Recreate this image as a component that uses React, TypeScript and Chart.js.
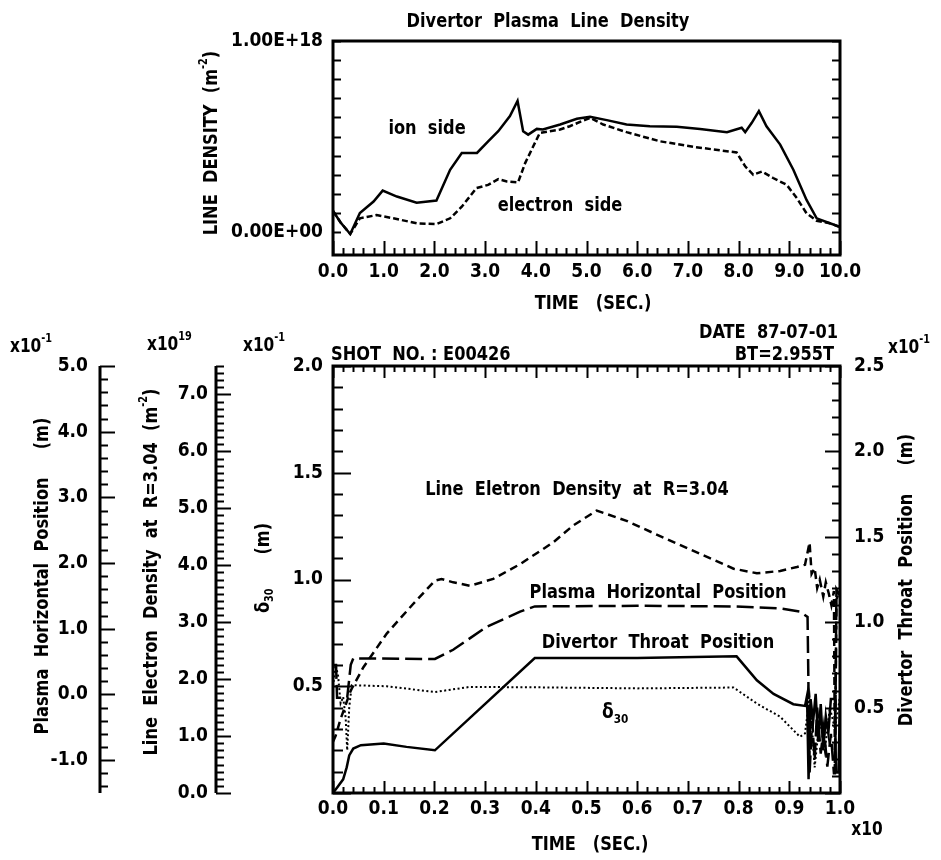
import React, { useEffect, useRef } from 'react';
import { Chart, registerables } from 'chart.js';

Chart.register(...registerables);

const FONT = '"DejaVu Sans Condensed", "Liberation Sans Narrow", "Roboto Condensed", "Liberation Sans", sans-serif';

// ---------- Top chart: Divertor Plasma Line Density (units of 1E+18 m^-2) ----------
const ionTime = [0, 0.15, 0.34, 0.53, 0.8, 0.98, 1.26, 1.65, 2.04, 2.31, 2.54, 2.84, 3.06, 3.26, 3.49, 3.64, 3.75, 3.85, 4.02, 4.14, 4.48, 4.81, 5.07, 5.4, 5.79, 6.25, 6.78, 7.24, 7.77, 8.06, 8.13, 8.26, 8.4, 8.55, 8.82, 9.08, 9.34, 9.54, 9.8, 10.0];
const ionValue = [0.11, 0.05, -0.01, 0.1, 0.16, 0.217, 0.186, 0.154, 0.165, 0.326, 0.414, 0.414, 0.475, 0.528, 0.607, 0.686, 0.528, 0.51, 0.54, 0.537, 0.563, 0.593, 0.604, 0.586, 0.563, 0.554, 0.551, 0.54, 0.523, 0.546, 0.523, 0.572, 0.633, 0.554, 0.458, 0.326, 0.168, 0.072, 0.046, 0.028];
const electronTime = [0, 0.15, 0.34, 0.53, 0.86, 1.19, 1.65, 2.04, 2.31, 2.54, 2.83, 3.06, 3.26, 3.43, 3.65, 3.79, 3.95, 4.08, 4.48, 4.67, 5.07, 5.33, 5.79, 6.45, 7.11, 7.63, 7.96, 8.13, 8.29, 8.46, 8.68, 8.95, 9.15, 9.34, 9.54, 9.8, 10.0];
const electronValue = [0.11, 0.05, -0.01, 0.072, 0.089, 0.072, 0.046, 0.042, 0.072, 0.133, 0.23, 0.247, 0.277, 0.265, 0.26, 0.361, 0.449, 0.519, 0.537, 0.554, 0.598, 0.563, 0.523, 0.475, 0.446, 0.428, 0.417, 0.344, 0.3, 0.317, 0.283, 0.247, 0.177, 0.098, 0.059, 0.046, 0.025];
const topXTicks = [0, 1, 2, 3, 4, 5, 6, 7, 8, 9, 10];
const topYTicks = [0, 1];

// ---------- Bottom chart (time in x10 s) ----------
const densityTime = [0, 0.005, 0.015, 0.025, 0.035, 0.06, 0.106, 0.158, 0.201, 0.214, 0.237, 0.27, 0.316, 0.369, 0.434, 0.474, 0.52, 0.579, 0.658, 0.724, 0.79, 0.836, 0.882, 0.915, 0.931, 0.94, 0.944, 0.95, 0.955, 0.96, 0.967, 0.972, 0.978, 0.983, 0.988, 0.99, 0.993, 0.997, 1.0];
const densityValue = [0.9, 1.0, 1.3, 1.55, 1.8, 2.21, 2.8, 3.32, 3.73, 3.76, 3.7, 3.64, 3.76, 4.02, 4.4, 4.7, 4.96, 4.78, 4.46, 4.2, 3.94, 3.86, 3.9, 3.97, 4.01, 4.4, 3.85, 3.95, 3.6, 3.75, 3.45, 3.7, 3.5, 3.3, 3.55, 0.4, 3.4, 3.5, 3.45];
const plasmaTime = [0, 0.006, 0.008, 0.028, 0.035, 0.04, 0.201, 0.237, 0.303, 0.369, 0.398, 0.6, 0.796, 0.882, 0.921, 0.936, 0.94, 0.945, 0.95, 0.955, 0.962, 0.968, 0.975, 0.982, 0.988, 0.99, 0.993, 1.0];
const plasmaValue = [0.45, 0.45, -0.05, -0.05, 0.45, 0.55, 0.54, 0.68, 1.03, 1.26, 1.34, 1.35, 1.34, 1.31, 1.26, 1.18, -1.2, -0.4, -1.0, -0.2, -0.9, -0.5, -1.1, -0.6, -1.2, -1.2, 1.6, 1.5];
const throatTime = [0, 0.01, 0.02, 0.027, 0.032, 0.04, 0.055, 0.1, 0.145, 0.201, 0.398, 0.6, 0.796, 0.836, 0.869, 0.908, 0.931, 0.935, 0.938, 0.942, 0.947, 0.952, 0.957, 0.962, 0.967, 0.972, 0.977, 0.982, 0.99, 0.992, 0.997, 1.0];
const throatValue = [0.0, 0.04, 0.08, 0.15, 0.22, 0.26, 0.28, 0.29, 0.27, 0.25, 0.79, 0.79, 0.8, 0.66, 0.58, 0.52, 0.51, 0.57, 0.08, 0.55, 0.42, 0.58, 0.3, 0.52, 0.25, 0.45, 0.35, 0.55, 0.55, 0.12, 0.12, 0.55];
const deltaTime = [0, 0.005, 0.01, 0.015, 0.02, 0.025, 0.028, 0.032, 0.037, 0.106, 0.201, 0.27, 0.4, 0.6, 0.79, 0.836, 0.882, 0.921, 0.931, 0.94, 0.945, 0.95, 0.96, 0.97, 0.98, 0.99, 1.0];
const deltaValue = [0.5, 0.6, 0.55, 0.42, 0.45, 0.35, 0.2, 0.4, 0.505, 0.5, 0.473, 0.497, 0.495, 0.49, 0.494, 0.419, 0.357, 0.263, 0.279, 0.45, 0.3, 0.12, 0.35, 0.2, 0.4, 0.3, 0.45];
const botXTicks = [0, 0.1, 0.2, 0.3, 0.4, 0.5, 0.6, 0.7, 0.8, 0.9, 1.0];
const deltaTicks = [0.5, 1.0, 1.5, 2.0];
const throatTicks = [0.5, 1.0, 1.5, 2.0, 2.5];
const plasmaTicks = [-1, 0, 1, 2, 3, 4, 5];
const densityTicks = [0, 1, 2, 3, 4, 5, 6, 7];

const W = 941;
const TOP_H = 320;
const BOT_TOP = 320;
const BOT_H = 540;
const SQUEEZE = 0.9;

type Part = { t: string; s?: 'sup' | 'sub' };

function drawRich(ctx: CanvasRenderingContext2D, parts: Part[], x: number, y: number, size: number, align: 'left' | 'center' | 'right', rot = 0) {
  ctx.save();
  ctx.translate(x, y);
  if (rot) ctx.rotate(rot);
  ctx.scale(SQUEEZE, 1);
  const small = Math.round(size * 0.62);
  const widths = parts.map((p) => {
    ctx.font = `bold ${p.s ? small : size}px ${FONT}`;
    return ctx.measureText(p.t).width;
  });
  const total = widths.reduce((a, b) => a + b, 0);
  let cx = align === 'left' ? 0 : align === 'center' ? -total / 2 : -total;
  ctx.textBaseline = 'middle';
  ctx.textAlign = 'left';
  ctx.fillStyle = '#000';
  parts.forEach((p, i) => {
    ctx.font = `bold ${p.s ? small : size}px ${FONT}`;
    const dy = p.s === 'sup' ? -size * 0.42 : p.s === 'sub' ? size * 0.3 : 0;
    ctx.fillText(p.t, cx, dy);
    cx += widths[i];
  });
  ctx.restore();
}

function line(ctx: CanvasRenderingContext2D, x1: number, y1: number, x2: number, y2: number, w = 2) {
  ctx.lineWidth = w;
  ctx.beginPath();
  ctx.moveTo(x1, y1);
  ctx.lineTo(x2, y2);
  ctx.stroke();
}

function isMult(v: number, m: number) {
  return Math.abs(v / m - Math.round(v / m)) < 1e-6;
}

function vTicks(ctx: CanvasRenderingContext2D, scale: any, x: number, from: number, to: number, step: number, major: number, majLen: number, minLen: number, dir: number) {
  const n = Math.round((to - from) / step);
  for (let i = 0; i <= n; i++) {
    const v = from + i * step;
    const y = Math.round(scale.getPixelForValue(v)) + 0.5;
    const len = isMult(v, major) ? majLen : minLen;
    line(ctx, x, y, x + dir * len, y, 2);
  }
}

function hTicks(ctx: CanvasRenderingContext2D, scale: any, y: number, from: number, to: number, step: number, major: number, majLen: number, minLen: number, dir: number) {
  const n = Math.round((to - from) / step);
  for (let i = 0; i <= n; i++) {
    const v = from + i * step;
    const x = Math.round(scale.getPixelForValue(v)) + 0.5;
    const len = isMult(v, major) ? majLen : minLen;
    line(ctx, x, y, x, y + dir * len, 2);
  }
}

const setTicks = (values: number[]) => (scale: any) => {
  scale.ticks = values.map((v) => ({ value: v }));
};
const fixWidth = (w: number) => (scale: any) => {
  scale.width = w;
};
const fixHeight = (h: number) => (scale: any) => {
  scale.height = h;
};
const fmt1 = (v: any) => Number(v).toFixed(1);
const fmtE = (v: any) => (Number(v) === 0 ? '0.00E+00' : `${Number(v).toFixed(2)}E+18`);

const pts = (xs: number[], ys: number[]) => xs.map((x, i) => ({ x, y: ys[i] }));

const tickFont = { family: FONT, size: 19, weight: 'bold' as const };

function TopChart() {
  const ref = useRef<HTMLCanvasElement>(null);
  useEffect(() => {
    const decor = {
      id: 'decorTop',
      afterDraw(chart: any) {
        const ctx: CanvasRenderingContext2D = chart.ctx;
        const a = chart.chartArea;
        const xs = chart.scales.x;
        const ys = chart.scales.y;
        ctx.save();
        ctx.strokeStyle = '#000';
        ctx.lineWidth = 3;
        ctx.strokeRect(a.left, a.top, a.right - a.left, a.bottom - a.top);
        vTicks(ctx, ys, a.left, 0, 1, 0.1, 1, 8, 8, 1);
        vTicks(ctx, ys, a.right, 0, 1, 0.1, 1, 8, 8, -1);
        hTicks(ctx, xs, a.bottom, 0, 10, 0.2, 1, 14, 7, -1);
        drawRich(ctx, [{ t: 'Divertor  Plasma  Line  Density' }], 548, 22, 20, 'center');
        drawRich(ctx, [{ t: 'TIME   (SEC.)' }], 593, 304, 20, 'center');
        drawRich(ctx, [{ t: 'LINE  DENSITY  (m' }, { t: '-2', s: 'sup' }, { t: ')' }], 212, 143, 20, 'center', -Math.PI / 2);
        drawRich(ctx, [{ t: 'ion  side' }], 427, 129, 20, 'center');
        drawRich(ctx, [{ t: 'electron  side' }], 560, 206, 20, 'center');
        ctx.restore();
      },
    };
    const chart = new Chart(ref.current!, {
      type: 'line',
      data: {
        datasets: [
          { label: 'ion side', data: pts(ionTime, ionValue), borderColor: '#000', borderWidth: 2.5, pointRadius: 0, tension: 0, fill: false },
          { label: 'electron side', data: pts(electronTime, electronValue), borderColor: '#000', borderWidth: 2.5, borderDash: [6, 3], pointRadius: 0, tension: 0, fill: false },
        ],
      },
      options: {
        responsive: false,
        animation: false,
        devicePixelRatio: 1,
        layout: { padding: { left: 0, top: 41, right: 101, bottom: 0 } },
        plugins: { legend: { display: false }, tooltip: { enabled: false }, title: { display: false } },
        scales: {
          x: {
            type: 'linear',
            min: 0,
            max: 10,
            afterBuildTicks: setTicks(topXTicks),
            afterFit: fixHeight(TOP_H - 255),
            grid: { display: false, drawTicks: false },
            border: { display: false },
            ticks: { color: '#000', font: tickFont, padding: 6, autoSkip: false, maxRotation: 0, minRotation: 0, callback: fmt1 },
          },
          y: {
            type: 'linear',
            min: -0.12,
            max: 1.0,
            afterBuildTicks: setTicks(topYTicks),
            afterFit: fixWidth(333),
            grid: { display: false, drawTicks: false },
            border: { display: false },
            ticks: { color: '#000', font: tickFont, padding: 10, callback: fmtE },
          },
        },
      } as any,
      plugins: [decor],
    });
    return () => chart.destroy();
  }, []);
  return <canvas ref={ref} width={W} height={TOP_H} style={{ position: 'absolute', left: 0, top: 0, display: 'block' }} />;
}

function BottomChart() {
  const ref = useRef<HTMLCanvasElement>(null);
  useEffect(() => {
    const off = BOT_TOP;
    const decor = {
      id: 'decorBottom',
      afterDraw(chart: any) {
        const ctx: CanvasRenderingContext2D = chart.ctx;
        const a = chart.chartArea;
        const xs = chart.scales.x;
        const yd = chart.scales.yDelta;
        const yt = chart.scales.yThroat;
        const yp = chart.scales.yPlasma;
        const yn = chart.scales.yDensity;
        ctx.save();
        ctx.strokeStyle = '#000';
        ctx.lineWidth = 3;
        ctx.strokeRect(a.left, a.top, a.right - a.left, a.bottom - a.top);
        line(ctx, yp.right, a.top, yp.right, a.bottom, 3);
        line(ctx, yn.right, a.top, yn.right, a.bottom, 3);
        vTicks(ctx, yd, a.left, 0, 2, 0.1, 0.5, 18, 10, 1);
        vTicks(ctx, yt, a.right, 0, 2.5, 0.1, 0.5, 15, 8, -1);
        vTicks(ctx, yp, yp.right, -1.4, 5, 0.2, 1, 15, 8, 1);
        vTicks(ctx, yn, yn.right, 0, 7.5, 0.125, 1, 15, 8, 1);
        hTicks(ctx, xs, a.bottom, 0, 1, 0.02, 0.1, 12, 6, -1);
        hTicks(ctx, xs, a.top, 0, 1, 0.02, 0.1, 12, 6, 1);

        const T = (parts: Part[], x: number, y: number, size: number, align: 'left' | 'center' | 'right', rot = 0) =>
          drawRich(ctx, parts, x, y - off, size, align, rot);
        T([{ t: 'x10' }, { t: '-1', s: 'sup' }], 10, 347, 19, 'left');
        T([{ t: 'x10' }, { t: '19', s: 'sup' }], 147, 345, 19, 'left');
        T([{ t: 'x10' }, { t: '-1', s: 'sup' }], 243, 346, 19, 'left');
        T([{ t: 'x10' }, { t: '-1', s: 'sup' }], 888, 348, 19, 'left');
        T([{ t: 'SHOT  NO. : E00426' }], 331, 355, 20, 'left');
        T([{ t: 'DATE  87-07-01' }], 838, 333, 20, 'right');
        T([{ t: 'BT=2.955T' }], 834, 355, 20, 'right');
        T([{ t: 'Line  Eletron  Density  at  R=3.04' }], 577, 490, 20, 'center');
        T([{ t: 'Plasma  Horizontal  Position' }], 658, 593, 20, 'center');
        T([{ t: 'Divertor  Throat  Position' }], 658, 643, 20, 'center');
        T([{ t: 'δ' }, { t: '30', s: 'sub' }], 602, 713, 21, 'left');
        T([{ t: 'x10' }], 867, 830, 19, 'center');
        T([{ t: 'TIME   (SEC.)' }], 590, 845, 20, 'center');
        T([{ t: 'Plasma  Horizontal  Position     (m)' }], 43, 576, 20, 'center', -Math.PI / 2);
        T([{ t: 'Line  Electron  Density  at  R=3.04  (m' }, { t: '-2', s: 'sup' }, { t: ')' }], 152, 572, 20, 'center', -Math.PI / 2);
        T([{ t: 'δ' }, { t: '30', s: 'sub' }, { t: '      (m)' }], 264, 568, 20, 'center', -Math.PI / 2);
        T([{ t: 'Divertor  Throat  Position     (m)' }], 907, 580, 20, 'center', -Math.PI / 2);
        ctx.restore();
      },
    };
    const common = { borderColor: '#000', borderWidth: 2.5, pointRadius: 0, tension: 0, fill: false };
    const chart = new Chart(ref.current!, {
      type: 'line',
      data: {
        datasets: [
          { label: 'Line Eletron Density at R=3.04', data: pts(densityTime, densityValue), yAxisID: 'yDensity', borderDash: [8, 5], ...common },
          { label: 'Plasma Horizontal Position', data: pts(plasmaTime, plasmaValue), yAxisID: 'yPlasma', borderDash: [17, 6], ...common },
          { label: 'Divertor Throat Position', data: pts(throatTime, throatValue), yAxisID: 'yThroat', ...common },
          { label: 'δ30', data: pts(deltaTime, deltaValue), yAxisID: 'yDelta', borderDash: [2, 2.5], ...common, borderWidth: 2 },
        ],
      },
      options: {
        responsive: false,
        animation: false,
        devicePixelRatio: 1,
        layout: { padding: { left: 0, top: 46, right: 0, bottom: 0 } },
        plugins: { legend: { display: false }, tooltip: { enabled: false }, title: { display: false } },
        scales: {
          x: {
            type: 'linear',
            min: 0,
            max: 1,
            afterBuildTicks: setTicks(botXTicks),
            afterFit: fixHeight(BOT_H - 473),
            grid: { display: false, drawTicks: false },
            border: { display: false },
            ticks: { color: '#000', font: tickFont, padding: 5, autoSkip: false, maxRotation: 0, minRotation: 0, callback: fmt1 },
          },
          yPlasma: {
            type: 'linear',
            position: 'left',
            weight: 3,
            min: -1.5,
            max: 5,
            afterBuildTicks: setTicks(plasmaTicks),
            afterFit: fixWidth(100),
            grid: { display: false, drawTicks: false },
            border: { display: false },
            ticks: { color: '#000', font: tickFont, padding: 12, callback: fmt1 },
          },
          yDensity: {
            type: 'linear',
            position: 'left',
            weight: 2,
            min: 0,
            max: 7.5,
            afterBuildTicks: setTicks(densityTicks),
            afterFit: fixWidth(116),
            grid: { display: false, drawTicks: false },
            border: { display: false },
            ticks: { color: '#000', font: tickFont, padding: 8, callback: fmt1 },
          },
          yDelta: {
            type: 'linear',
            position: 'left',
            weight: 1,
            min: 0,
            max: 2,
            afterBuildTicks: setTicks(deltaTicks),
            afterFit: fixWidth(117),
            grid: { display: false, drawTicks: false },
            border: { display: false },
            ticks: { color: '#000', font: tickFont, padding: 10, callback: fmt1 },
          },
          yThroat: {
            type: 'linear',
            position: 'right',
            min: 0,
            max: 2.5,
            afterBuildTicks: setTicks(throatTicks),
            afterFit: fixWidth(W - 840),
            grid: { display: false, drawTicks: false },
            border: { display: false },
            ticks: { color: '#000', font: tickFont, padding: 14, callback: fmt1 },
          },
        },
      } as any,
      plugins: [decor],
    });
    return () => chart.destroy();
  }, []);
  return <canvas ref={ref} width={W} height={BOT_H} style={{ position: 'absolute', left: 0, top: BOT_TOP, display: 'block' }} />;
}

export default function App() {
  return (
    <div style={{ position: 'absolute', left: 0, top: 0, width: W, height: 860, background: '#fff' }}>
      <TopChart />
      <BottomChart />
    </div>
  );
}
